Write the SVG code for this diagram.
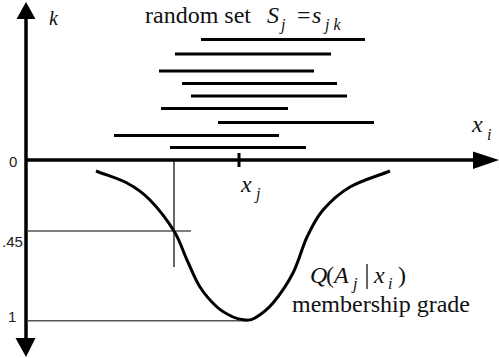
<svg xmlns="http://www.w3.org/2000/svg" width="499" height="358" viewBox="0 0 499 358">
<style>
.ax{stroke:#000;stroke-width:3.5;fill:none}
.bar{stroke:#000;stroke-width:3}
.thin{stroke:#000;stroke-width:1.2}
.head{fill:#000}
.t{font-family:"Liberation Serif","Times New Roman",serif;fill:#111}
.i{font-style:italic}
.big{font-size:24px}
.sub{font-size:16px}
.num{font-family:"Liberation Sans",Arial,sans-serif;font-size:15px;fill:#222}
</style>
<rect width="499" height="358" fill="#fff"/>
<g id="axes">
<line class="ax" x1="26" y1="16" x2="26" y2="340"/>
<line class="ax" x1="26" y1="160" x2="476" y2="160"/>
<polygon class="head" points="26,2 16.5,19 35.5,19"/>
<polygon class="head" points="26,357 15.5,338 35.5,338"/>
<polygon class="head" points="499,160 473,151.5 473,169"/>
<line x1="239" y1="153" x2="239" y2="167" stroke="#000" stroke-width="3"/>
</g>
<g id="random-set">
<line class="bar" x1="201" y1="39.5" x2="365" y2="39.5"/>
<line class="bar" x1="175" y1="54" x2="331" y2="54"/>
<line class="bar" x1="159" y1="71" x2="314" y2="71"/>
<line class="bar" x1="182" y1="83.5" x2="337" y2="83.5"/>
<line class="bar" x1="191" y1="96" x2="347" y2="96"/>
<line class="bar" x1="161" y1="108.5" x2="288" y2="108.5"/>
<line class="bar" x1="218" y1="122.5" x2="374" y2="122.5"/>
<line class="bar" x1="114" y1="135.5" x2="279" y2="135.5"/>
<line class="bar" x1="170" y1="147.5" x2="306" y2="147.5"/>
</g>
<g id="guides">
<line class="thin" x1="174" y1="160" x2="174" y2="267"/>
<line class="thin" x1="28" y1="231" x2="191" y2="231"/>
<line x1="28" y1="320.7" x2="247" y2="320.7" stroke="#555" stroke-width="1.5"/>
</g>
<g id="curve">
<path d="M96,171 C106.3,175 118,178.2 127,183 C136,187.8 142.2,192 150,200 C157.8,208 167.8,221 174,231 C180.2,241 182.7,250.7 187,260 C191.3,269.3 195,279.2 200,287 C205,294.8 211.5,302 217,307 C222.5,312 228.3,314.8 233,317 C237.7,319.2 241.7,319.7 245,320 C248.7,320.2 250.3,320.8 255,318 C259.7,315.2 266.7,310.5 273,303 C279.3,295.5 287.3,284 293,273 C298.7,262 302,247.5 307,237 C312,226.5 315.8,218.3 323,210 C330.2,201.7 338.8,193.5 350,187 C361.2,180.5 376.7,176.3 390,171" fill="none" stroke="#000" stroke-width="3"/>
</g>
<g id="labels">
<text class="t i" x="49" y="25" font-size="20">k</text>
<text class="t big" x="145" y="23">random set</text>
<text class="t i big" x="267" y="23">S</text>
<text class="t i sub" x="281" y="30">j</text>
<text class="t big" x="297" y="23">=</text>
<text class="t i big" x="312" y="23">s</text>
<text class="t i sub" x="325" y="30">j k</text>
<text class="t i big" x="472" y="132">x</text>
<text class="t i sub" x="487" y="140">i</text>
<text class="t i big" x="241" y="192">x</text>
<text class="t i sub" x="256" y="199">j</text>
<text class="t i big" x="310" y="283">Q</text>
<text class="t big" x="326" y="283">(</text>
<text class="t i big" x="334" y="283">A</text>
<text class="t i sub" x="353" y="289">j</text>
<line x1="367" y1="264" x2="367" y2="289" stroke="#111" stroke-width="1.3"/>
<text class="t i big" x="374" y="283">x</text>
<text class="t i sub" x="388" y="289">i</text>
<text class="t big" x="398" y="283">)</text>
<text class="t big" x="292" y="312">membership grade</text>
</g>
<g id="ticks">
<text class="num" x="9" y="167">0</text>
<text class="num" x="2" y="247">.45</text>
<text class="num" x="8" y="322">1</text>
</g>
</svg>
